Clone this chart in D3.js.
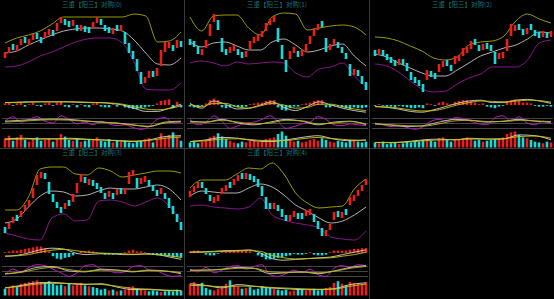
<!DOCTYPE html>
<html>
<head>
<meta charset="utf-8">
<script src="https://cdn.jsdelivr.net/npm/d3@7"></script>
<style>
	html, body { margin: 0; padding: 0; background: #000; }
	svg { display: block; }
</style>
</head>
<body>
<svg id="chart"></svg>
<script>
const WIDTH = 554;
const HEIGHT = 299;

const titles = ['三重【阳三】对购(0)', '三重【阳三】对购(1)', '三重【阳三】对购(2)', '三重【阳三】对购(3)', '三重【阳三】对购(4)'];

// [open, close] per bar, one list per panel
const candleOC = [
	[[42,48],[47,53],[56,50],[49,55],[55,61],[63,57],[55,61],[60,66],[67,61],[63,57],[62,68],[65,71],[70,64],[69,77],[77,83],[81,75],[79,73],[74,80],[75,69],[69,75],[74,68],[73,67],[72,78],[77,83],[81,75],[75,69],[73,67],[66,72],[75,69],[69,75],[68,56],[57,47],[49,41],[41,29],[28,16],[17,23],[22,29],[29,23],[24,32],[34,50],[48,58],[52,58],[55,49],[52,60],[59,53]],
	[[61,55],[59,53],[54,46],[45,51],[52,60],[64,76],[78,86],[80,70],[62,48],[51,45],[47,53],[49,55],[51,45],[48,42],[43,49],[51,59],[57,63],[59,65],[63,69],[69,77],[75,81],[78,84],[72,58],[55,41],[40,28],[41,49],[47,53],[49,43],[44,50],[48,56],[56,64],[64,72],[70,76],[79,73],[62,48],[50,56],[55,61],[58,52],[53,47],[47,41],[36,24],[25,31],[30,24],[24,16],[18,10]],
	[[50,44],[45,51],[50,44],[46,40],[43,37],[40,34],[35,41],[41,35],[37,29],[28,20],[23,17],[20,14],[16,8],[20,30],[29,23],[27,21],[28,36],[33,39],[40,34],[35,29],[36,44],[39,45],[44,52],[47,53],[51,59],[61,55],[55,49],[50,56],[57,51],[55,49],[48,36],[41,47],[42,48],[49,61],[64,76],[69,75],[76,70],[71,65],[66,72],[76,70],[70,64],[68,62],[63,69],[68,62],[63,69]],
	[[21,15],[19,25],[25,31],[33,27],[31,37],[37,43],[42,48],[50,60],[63,73],[70,76],[75,69],[66,54],[54,46],[46,40],[41,35],[39,45],[48,42],[46,54],[55,65],[66,74],[71,65],[63,69],[68,62],[65,59],[61,55],[55,49],[51,57],[55,49],[53,59],[60,54],[54,60],[64,76],[72,78],[70,60],[64,70],[66,72],[68,62],[63,57],[58,52],[54,60],[55,49],[50,40],[42,34],[34,26],[26,18]],
	[[51,57],[56,62],[60,66],[66,60],[60,54],[53,47],[45,51],[47,53],[54,60],[57,63],[66,60],[63,69],[67,73],[75,69],[69,75],[74,68],[72,66],[69,61],[62,52],[51,39],[45,39],[39,45],[43,37],[39,31],[33,27],[27,33],[31,37],[35,29],[35,29],[32,38],[33,39],[34,26],[27,19],[20,12],[12,18],[18,24],[28,36],[37,31],[30,36],[39,33],[43,51],[47,53],[52,58],[57,63],[63,69]]
];

const upperBand = [
	[57,62,65,69,76,83,83,83,83,83,83,86,84,58,59,68],
	[83,69,84,85,85,72,65,83,87,86,70,72,74,75,73,65],
	[63,62,59,54,49,42,40,43,55,58,59,64,79,86,81,77],
	[38,38,51,79,81,81,74,73,80,77,71,73,75,77,77,75],
	[60,68,68,68,74,80,79,85,74,55,45,40,41,42,59,69]
];
const midBand = [
	[47,49,55,60,65,69,71,72,72,71,69,60,47,36,35,42],
	[58,53,57,58,54,50,50,58,61,55,48,50,54,56,44,34],
	[46,43,37,32,27,24,24,30,37,44,48,52,55,61,68,67],
	[25,29,41,52,57,56,52,53,57,60,59,59,61,63,59,48],
	[52,57,56,55,55,60,64,61,53,43,37,30,25,27,33,41]
];
const lowerBand = [
	[33,34,38,44,48,53,58,61,62,62,57,38,11,10,10,17],
	[37,39,37,34,38,36,37,38,37,27,23,31,33,37,24,13],
	[36,34,28,19,11,8,9,16,22,26,33,33,33,40,57,60],
	[15,12,9,8,30,34,27,28,47,48,46,42,46,50,42,28],
	[42,43,41,40,39,41,50,33,28,25,23,20,11,9,8,17]
];

const macdHist = [
	[0.2,0.3,-0.1,0.2,0.3,-0.2,0.1,0.3,-0.1,-0.2,0.2,0.3,-0.1,0.3,0.4,-0.2,-0.3,0.1,-0.3,0.1,-0.2,-0.3,0.2,0.3,-0.2,-0.3,-0.3,0.1,-0.2,0.1,-0.3,-0.4,-0.5,-0.5,-0.4,-0.3,-0.2,-0.1,0.2,0.5,0.6,0.7,-0.4,0.4,-0.3],
	[-0.2,-0.3,-0.3,-0.1,0.2,0.6,0.8,0.6,-0.3,-0.4,-0.3,-0.2,-0.3,-0.3,-0.2,0.1,0.2,0.3,0.3,0.5,0.6,0.6,-0.3,-0.6,-0.7,-0.4,-0.2,-0.2,0.1,0.2,0.3,0.5,0.6,0.6,-0.3,-0.3,-0.1,-0.2,-0.3,-0.4,-0.5,-0.3,-0.4,-0.4,-0.3],
	[-0.1,0.1,-0.1,-0.2,-0.2,-0.3,-0.1,-0.2,-0.3,-0.4,-0.4,-0.3,-0.4,0.2,0.1,-0.1,0.3,0.4,0.2,0.1,0.4,0.5,0.6,0.6,0.5,0.3,0.1,0.2,-0.2,-0.3,-0.4,-0.2,-0.1,0.3,0.6,0.7,0.5,0.3,0.3,0.2,-0.1,-0.2,-0.2,-0.1,-0.2],
	[0.1,0.2,0.3,0.3,0.4,0.5,0.6,0.7,0.8,0.8,0.6,0.2,-0.4,-0.7,-0.8,-0.6,-0.5,-0.3,-0.1,0.2,0.2,0.3,0.2,0.1,-0.1,-0.2,-0.2,-0.2,-0.1,-0.1,0.1,0.3,0.4,0.2,0.2,0.1,-0.1,-0.2,-0.3,-0.3,-0.3,-0.4,-0.5,-0.5,-0.6],
	[0.2,0.3,0.3,0.1,-0.2,-0.3,-0.3,-0.1,0.1,0.2,0.3,0.3,0.4,0.3,0.3,0.2,0.0,-0.3,-0.5,-0.8,-0.8,-0.7,-0.6,-0.5,-0.4,-0.3,-0.1,-0.2,-0.2,-0.1,0.1,-0.2,-0.3,-0.3,-0.2,0.1,0.3,0.3,0.3,0.3,0.4,0.5,0.5,0.6,0.6]
];
const macdDif = [
	[0.3,0.35,0.4,0.4,0.4,0.4,0.35,0.3,0.3,0.2,0.0,-0.4,-0.8,-0.8,-0.4,0.1],
	[0.2,-0.4,0.5,0.1,-0.5,-0.4,0.0,0.4,-0.3,-0.7,-0.2,0.4,0.0,-0.4,-0.7,-0.9],
	[-0.2,-0.3,-0.5,-0.8,-0.9,-0.6,-0.2,0.2,0.5,0.6,0.3,0.3,0.6,0.7,0.5,0.2],
	[-0.4,-0.3,0.0,0.4,0.6,0.5,0.0,-0.2,-0.1,-0.1,-0.2,-0.2,-0.1,-0.2,-0.5,-0.8],
	[0.1,0.15,0.2,0.3,0.3,0.4,0.0,-0.7,-0.9,-0.8,-0.7,-0.6,-0.5,-0.2,0.1,0.4]
];
const macdDea = [
	[0.3,0.3,0.35,0.4,0.4,0.4,0.4,0.35,0.3,0.25,0.1,-0.2,-0.5,-0.6,-0.45,-0.1],
	[0.1,-0.2,0.2,0.2,-0.2,-0.4,-0.1,0.2,0.0,-0.4,-0.3,0.1,0.1,-0.2,-0.5,-0.7],
	[-0.2,-0.25,-0.4,-0.6,-0.75,-0.7,-0.4,0.0,0.3,0.5,0.45,0.4,0.5,0.6,0.55,0.35],
	[-0.4,-0.35,-0.2,0.1,0.35,0.45,0.3,0.1,0.0,-0.05,-0.1,-0.15,-0.15,-0.2,-0.35,-0.55],
	[0.1,0.1,0.15,0.2,0.25,0.3,0.2,-0.3,-0.6,-0.75,-0.7,-0.65,-0.6,-0.4,-0.2,0.1]
];

const kdjK = [
	[60,85,55,70,85,60,50,90,70,45,55,40,60,45,35,40,25,15,30,70,80,50,55],
	[70,40,55,90,60,20,35,50,55,70,90,60,20,30,45,55,85,70,40,35,45,40,35],
	[50,40,30,35,25,15,30,60,70,60,80,75,60,45,40,80,90,60,85,50,40,60,45],
	[30,60,45,70,85,80,60,40,20,40,80,85,60,50,40,45,75,80,55,50,30,20,25],
	[60,45,70,40,55,75,80,60,75,85,30,20,35,55,40,60,30,20,65,80,70,85,80]
];
const kdjD = [
	[60,65,70,72,70,62,55,50,40,30,55,60],
	[60,55,70,50,40,55,70,60,40,55,60,40],
	[45,38,30,35,55,70,65,55,60,70,60,55],
	[35,45,70,75,50,45,60,55,45,55,50,35],
	[55,55,60,70,65,35,40,45,35,50,70,80]
];
const kdjJ = [
	[55,60,65,68,66,60,55,48,38,32,50,58],
	[55,55,65,55,45,50,65,62,45,50,58,45],
	[45,40,35,33,45,62,65,58,58,65,62,57],
	[33,42,60,70,58,48,55,55,48,52,50,40],
	[52,55,58,65,65,45,42,44,40,48,65,75]
];

const volume = [
	[55,70,40,60,75,45,35,50,60,40,45,55,35,50,80,65,45,40,55,35,40,50,45,60,40,35,50,30,45,35,40,30,25,35,40,50,55,30,45,85,60,75,90,65,40],
	[30,40,25,35,45,60,70,85,65,50,40,30,25,35,30,40,45,35,40,50,55,60,80,95,70,45,35,40,30,35,45,50,40,55,45,35,30,40,35,30,45,40,35,30,35],
	[30,25,35,20,25,30,20,25,35,30,40,35,45,50,40,35,55,60,45,35,45,50,55,60,50,40,45,35,40,45,50,55,60,80,90,95,75,60,55,45,35,30,25,35,30],
	[40,45,60,55,70,75,80,85,90,80,75,85,70,60,65,55,70,60,65,75,60,55,50,45,35,40,30,35,25,30,35,50,55,40,35,30,25,30,25,20,25,30,25,35,30],
	[70,80,60,75,45,35,30,40,55,70,90,60,55,40,45,50,35,40,55,50,45,40,35,30,35,25,30,40,35,30,35,40,30,35,45,50,75,85,70,60,80,75,70,65,80]
];
const volMa5 = [
	[50,55,52,50,55,50,45,40,35,45,65,70],
	[35,45,60,55,40,35,45,60,70,50,40,45],
	[30,28,35,45,50,45,55,50,50,75,70,45],
	[45,60,75,78,70,65,70,50,35,35,30,28],
	[70,60,45,65,55,45,40,35,35,40,65,75]
];
const volMa10 = [
	[48,50,50,52,50,48,45,42,38,42,55,62],
	[35,40,50,52,45,40,42,52,60,52,45,42],
	[30,30,32,40,45,47,50,50,52,65,68,55],
	[45,55,68,72,72,68,66,55,42,38,32,30],
	[60,58,52,56,55,48,44,40,37,38,55,68]
];

const UP = '#e8201c';
const DOWN = '#18d8d8';

const svg = d3.select('#chart')
	.attr('width', WIDTH)
	.attr('height', HEIGHT)
	.style('background', '#000');

// grid separators between the panels
svg.append('g')
	.selectAll('line')
	.data([[184.5, 0, 184.5, HEIGHT], [369.5, 0, 369.5, HEIGHT], [0, 148.5, WIDTH, 148.5]])
	.enter()
	.append('line')
	.attr('x1', d => d[0])
	.attr('y1', d => d[1])
	.attr('x2', d => d[2])
	.attr('y2', d => d[3])
	.attr('stroke', '#3a3a3a')
	.attr('stroke-width', 1);

const drawLine = (g, values, xs, ys, color, width) => {
	const line = d3.line()
		.x((d, i) => xs(i))
		.y(d => ys(d))
		.curve(d3.curveMonotoneX);
	g.append('path')
		.datum(values)
		.attr('d', line)
		.attr('fill', 'none')
		.attr('stroke', color)
		.attr('stroke-width', width);
};

const drawPanel = (k, left, top) => {
	const g = svg.append('g');
	const n = candleOC[k].length;
	const x = d3.scaleLinear().domain([0, n - 1]).range([left + 5, left + 181]);
	const pointX = count => d3.scaleLinear().domain([0, count - 1]).range([left + 5, left + 181]);
	const yPrice = d3.scaleLinear().domain([0, 100]).range([top + 100, top]);
	const yMacd = d3.scaleLinear().domain([-1, 1]).range([top + 113, top + 97]);
	const yKdj = d3.scaleLinear().domain([0, 100]).range([top + 132, top + 114]);
	const yVol = d3.scaleLinear().domain([0, 95]).range([top + 147.5, top + 131.5]);
	const barW = 2.6;

	g.append('text')
		.attr('x', left + 92)
		.attr('y', top + 7)
		.attr('text-anchor', 'middle')
		.attr('font-family', '"Noto Sans CJK SC", sans-serif')
		.attr('font-size', 6.5)
		.attr('fill', '#147a7a')
		.text(titles[k]);

	// bollinger bands
	drawLine(g, upperBand[k], pointX(upperBand[k].length), yPrice, '#9c9c00', 1);
	drawLine(g, midBand[k], pointX(midBand[k].length), yPrice, '#b4b4b4', 1);
	drawLine(g, lowerBand[k], pointX(lowerBand[k].length), yPrice, '#8c148c', 1);

	// candles
	g.append('g')
		.selectAll('rect')
		.data(candleOC[k])
		.enter()
		.append('rect')
		.attr('x', (d, i) => x(i) - barW / 2)
		.attr('y', d => yPrice(Math.max(d[0], d[1])))
		.attr('width', barW)
		.attr('height', d => Math.max(1, Math.abs(yPrice(d[0]) - yPrice(d[1]))))
		.attr('fill', d => d[1] >= d[0] ? UP : DOWN);

	// macd
	g.append('g')
		.selectAll('rect')
		.data(macdHist[k])
		.enter()
		.append('rect')
		.attr('x', (d, i) => x(i) - barW / 2)
		.attr('y', d => yMacd(Math.max(0, d)))
		.attr('width', barW)
		.attr('height', d => Math.abs(yMacd(d) - yMacd(0)))
		.attr('fill', d => d >= 0 ? UP : DOWN);
	drawLine(g, macdDif[k], pointX(macdDif[k].length), yMacd, '#d2d2d2', 0.9);
	drawLine(g, macdDea[k], pointX(macdDea[k].length), yMacd, '#c8c800', 0.9);

	// kdj
	g.append('g')
		.selectAll('line')
		.data([20, 50, 80])
		.enter()
		.append('line')
		.attr('x1', left + 2)
		.attr('x2', left + 183)
		.attr('y1', d => Math.round(yKdj(d)) + 0.5)
		.attr('y2', d => Math.round(yKdj(d)) + 0.5)
		.attr('stroke', '#444')
		.attr('stroke-width', 1);
	drawLine(g, kdjK[k], pointX(kdjK[k].length), yKdj, '#b818b8', 1);
	drawLine(g, kdjD[k], pointX(kdjD[k].length), yKdj, '#c8c8c8', 0.9);
	drawLine(g, kdjJ[k], pointX(kdjJ[k].length), yKdj, '#b8b800', 0.9);

	// volume
	g.append('g')
		.selectAll('rect')
		.data(volume[k])
		.enter()
		.append('rect')
		.attr('x', (d, i) => x(i) - barW / 2)
		.attr('y', d => yVol(d))
		.attr('width', barW)
		.attr('height', d => yVol(0) - yVol(d))
		.attr('fill', (d, i) => candleOC[k][i][1] >= candleOC[k][i][0] ? UP : DOWN);
	drawLine(g, volMa5[k], pointX(volMa5[k].length), yVol, '#d2d2d2', 0.9);
	drawLine(g, volMa10[k], pointX(volMa10[k].length), yVol, '#c8c800', 0.9);
};

const origins = [[0, 0], [185, 0], [370, 0], [0, 148], [185, 148]];
origins.forEach((o, k) => drawPanel(k, o[0], o[1]));
</script>
</body>
</html>
